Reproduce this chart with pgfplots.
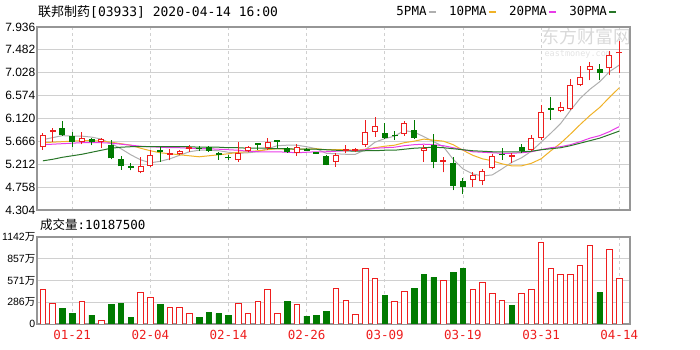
\documentclass[border=0pt]{standalone}
\usepackage{fontspec}
\setmainfont{DejaVu Sans Mono}
\newfontfamily\cjk{Noto Sans CJK SC}
\newfontfamily\lab{Liberation Sans}
\usepackage{pgfplots}
\usepackage{pgfplotstable}
\pgfplotsset{compat=1.18}
\definecolor{cred}{RGB}{238,30,30}
\definecolor{cgreen}{RGB}{0,122,0}
\definecolor{mafive}{RGB}{175,175,175}
\definecolor{maten}{RGB}{240,178,40}
\definecolor{matwenty}{RGB}{232,60,232}
\definecolor{mathirty}{RGB}{40,118,40}
\definecolor{gridc}{RGB}{208,208,208}
\definecolor{framec}{RGB}{150,150,150}
\pgfplotsset{candle/.style={only marks, mark=*, mark size=0pt, mark options={draw=none, fill=none}, forget plot,
  error bars/.cd, y dir=plus, y explicit, error mark=none}}

% candles: index, open, high, low, close
\pgfplotstableread{
i O H L C
0 5.55 5.84 5.50 5.79
4 5.65 5.85 5.61 5.73
6 5.65 5.73 5.54 5.71
10 5.05 5.35 5.03 5.17
11 5.18 5.50 5.16 5.40
14 5.41 5.50 5.40 5.47
20 5.29 5.66 5.26 5.43
21 5.47 5.58 5.45 5.56
23 5.53 5.73 5.50 5.66
26 5.43 5.61 5.38 5.56
30 5.26 5.43 5.16 5.40
33 5.59 6.09 5.56 5.86
34 5.86 6.14 5.76 5.98
37 5.81 6.08 5.78 6.03
39 5.47 5.59 5.26 5.53
44 4.90 5.05 4.77 5.00
45 4.87 5.11 4.80 5.07
46 5.13 5.42 5.11 5.38
50 5.50 5.79 5.48 5.73
51 5.73 6.39 5.69 6.25
53 6.26 6.45 6.24 6.35
54 6.31 6.90 6.29 6.78
55 6.78 7.16 6.76 6.95
56 7.08 7.25 6.88 7.16
58 7.12 7.45 6.98 7.38
}\redbox
\pgfplotstableread{
i O H L C
1 5.85 5.93 5.66 5.89
13 5.40 5.52 5.29 5.44
15 5.52 5.60 5.46 5.55
31 5.48 5.60 5.43 5.52
32 5.48 5.54 5.46 5.51
41 5.26 5.36 5.05 5.29
48 5.36 5.43 5.23 5.39
59 7.41 7.65 7.02 7.44
}\redthin
\pgfplotstableread{
i O H L C
2 5.93 6.08 5.78 5.79
3 5.78 5.86 5.56 5.66
5 5.71 5.73 5.59 5.66
7 5.59 5.69 5.31 5.33
8 5.32 5.37 5.10 5.17
9 5.18 5.24 5.09 5.14
12 5.50 5.56 5.26 5.46
16 5.54 5.58 5.47 5.51
17 5.55 5.57 5.46 5.48
18 5.43 5.45 5.30 5.40
19 5.36 5.39 5.30 5.33
22 5.63 5.63 5.50 5.60
24 5.69 5.70 5.53 5.66
25 5.54 5.55 5.44 5.45
27 5.51 5.53 5.47 5.48
28 5.45 5.46 5.42 5.42
29 5.37 5.39 5.19 5.20
35 5.84 6.03 5.72 5.73
36 5.80 5.87 5.70 5.77
38 5.89 6.09 5.72 5.73
40 5.59 5.82 5.13 5.25
42 5.23 5.36 4.70 4.78
43 4.87 4.93 4.62 4.77
47 5.42 5.53 5.30 5.39
49 5.56 5.61 5.44 5.48
52 6.32 6.55 6.09 6.29
57 7.10 7.21 6.88 7.02
}\greens
% volume (10 thousand shares)
\pgfplotstableread{
i v
0 455
1 271
4 301
6 52
10 419
11 354
13 218
14 218
15 135
20 266
21 135
22 301
23 455
24 135
26 253
30 467
31 314
32 131
33 726
34 599
36 301
37 432
41 568
44 455
45 550
46 402
47 314
49 402
50 455
51 1066
52 726
53 651
54 651
55 765
56 1031
58 979
59 599
}\volr
\pgfplotstableread{
i v
2 201
3 135
5 118
7 253
8 266
9 87
12 253
16 87
17 153
18 135
19 118
25 301
27 105
28 118
29 170
35 380
38 463
39 651
40 612
42 681
43 729
48 249
57 415
}\volg

\begin{document}
\begin{tikzpicture}[x=1pt,y=1pt]
% watermark
\begin{scope}
\clip (37,140) rectangle (630,323);
\node[text=black!15, font=\cjk\fontsize{18}{18}\selectfont, anchor=west] at (538,313) {东方财富网};
\node[text=black!11, font=\fontsize{8.5}{9}\selectfont, anchor=west] at (541,296) {eastmoney.com};
\end{scope}
% title and labels
\node[anchor=west, font=\fontsize{13}{14}\selectfont, inner sep=0pt] at (38,338) {{\cjk 联邦制药}[03933] 2020-04-14 16:00};
\node[anchor=west, font=\fontsize{12.5}{14}\selectfont, inner sep=0pt] at (40,125) {{\cjk 成交量}:10187500};

\begin{axis}[
  at={(37pt,140pt)}, anchor=south west, scale only axis,
  width=593pt, height=183pt,
  xmin=-0.6, xmax=60.1, ymin=4.304, ymax=7.936,
  xtick={3,11,19,27,35,43,51,59}, xticklabels={},
  ytick={4.304,4.758,5.212,5.666,6.120,6.574,7.028,7.482,7.936},
  yticklabels={4.304,4.758,5.212,5.666,6.120,6.574,7.028,7.482,7.936},
  /pgf/number format/assume math mode=true,
  yticklabel style={font=\lab\fontsize{12}{14}\selectfont, inner sep=1.5pt},
  major tick length=0pt,
  xmajorgrids, ymajorgrids,
  x grid style={gridc, dash pattern=on 3pt off 3pt, line width=0.8pt},
  y grid style={gridc, line width=0.8pt},
  axis line style={framec, line width=1.2pt},
  legend columns=4,
  legend plot pos=right,
  legend image code/.code={\draw[#1, line width=2pt] (0pt,0pt) -- (7pt,0pt);},
  legend style={at={(axis description cs:0.605,1.082)}, anchor=west, draw=none, fill=none,
    inner sep=0pt, font=\fontsize{12.5}{14}\selectfont,
    nodes={inner sep=0.5pt},
    /tikz/every odd column/.style={column sep=1pt},
    /tikz/every even column/.style={column sep=11.5pt}},
]
\addplot[mafive, line width=1pt] coordinates {(0,5.70)(1,5.74)(2,5.78)(3,5.77)(4,5.77)(5,5.75)(6,5.71)(7,5.62)(8,5.52)(9,5.40)(10,5.30)(11,5.24)(12,5.27)(13,5.32)(14,5.39)(15,5.46)(16,5.49)(17,5.49)(18,5.48)(19,5.45)(20,5.43)(21,5.44)(22,5.46)(23,5.52)(24,5.58)(25,5.59)(26,5.59)(27,5.56)(28,5.52)(29,5.43)(30,5.42)(31,5.41)(32,5.41)(33,5.50)(34,5.65)(35,5.72)(36,5.77)(37,5.88)(38,5.85)(39,5.76)(40,5.66)(41,5.56)(42,5.31)(43,5.12)(44,5.02)(45,4.98)(46,5.00)(47,5.12)(48,5.25)(49,5.34)(50,5.47)(51,5.65)(52,5.83)(53,6.02)(54,6.28)(55,6.52)(56,6.70)(57,6.85)(58,7.05)(59,7.18)};
\addlegendentry{5PMA}
\addplot[maten, line width=1pt] coordinates {(0,5.64)(1,5.65)(2,5.66)(3,5.67)(4,5.68)(5,5.68)(6,5.67)(7,5.65)(8,5.62)(9,5.59)(10,5.53)(11,5.48)(12,5.44)(13,5.42)(14,5.40)(15,5.38)(16,5.36)(17,5.38)(18,5.40)(19,5.42)(20,5.45)(21,5.46)(22,5.48)(23,5.50)(24,5.52)(25,5.51)(26,5.51)(27,5.51)(28,5.52)(29,5.50)(30,5.50)(31,5.50)(32,5.49)(33,5.51)(34,5.54)(35,5.57)(36,5.59)(37,5.64)(38,5.67)(39,5.71)(40,5.69)(41,5.67)(42,5.60)(43,5.49)(44,5.39)(45,5.32)(46,5.28)(47,5.22)(48,5.18)(49,5.18)(50,5.23)(51,5.32)(52,5.48)(53,5.63)(54,5.81)(55,6.00)(56,6.18)(57,6.34)(58,6.54)(59,6.73)};
\addlegendentry{10PMA}
\addplot[matwenty, line width=1pt] coordinates {(0,5.60)(1,5.61)(2,5.62)(3,5.63)(4,5.64)(5,5.64)(6,5.64)(7,5.63)(8,5.61)(9,5.59)(10,5.57)(11,5.56)(12,5.55)(13,5.54)(14,5.54)(15,5.53)(16,5.52)(17,5.52)(18,5.51)(19,5.50)(20,5.49)(21,5.47)(22,5.46)(23,5.46)(24,5.46)(25,5.45)(26,5.44)(27,5.45)(28,5.46)(29,5.46)(30,5.47)(31,5.48)(32,5.48)(33,5.50)(34,5.53)(35,5.54)(36,5.55)(37,5.58)(38,5.60)(39,5.61)(40,5.60)(41,5.58)(42,5.54)(43,5.50)(44,5.46)(45,5.45)(46,5.44)(47,5.43)(48,5.43)(49,5.44)(50,5.46)(51,5.50)(52,5.54)(53,5.56)(54,5.60)(55,5.66)(56,5.73)(57,5.78)(58,5.86)(59,5.96)};
\addlegendentry{20PMA}
\addplot[mathirty, line width=1pt] coordinates {(0,5.28)(1,5.31)(2,5.35)(3,5.38)(4,5.41)(5,5.45)(6,5.49)(7,5.53)(8,5.55)(9,5.56)(10,5.56)(11,5.56)(12,5.56)(13,5.56)(14,5.56)(15,5.56)(16,5.55)(17,5.55)(18,5.55)(19,5.54)(20,5.54)(21,5.53)(22,5.53)(23,5.53)(24,5.52)(25,5.52)(26,5.51)(27,5.51)(28,5.51)(29,5.50)(30,5.49)(31,5.48)(32,5.47)(33,5.48)(34,5.48)(35,5.49)(36,5.49)(37,5.51)(38,5.53)(39,5.54)(40,5.55)(41,5.54)(42,5.52)(43,5.50)(44,5.48)(45,5.47)(46,5.46)(47,5.46)(48,5.46)(49,5.46)(50,5.47)(51,5.50)(52,5.52)(53,5.54)(54,5.58)(55,5.63)(56,5.68)(57,5.73)(58,5.80)(59,5.87)};
\addlegendentry{30PMA}
% wicks
\addplot[candle, error bar style={line width=1pt, color=cred}] table[x=i, y=L, y error plus expr=\thisrow{H}-\thisrow{L}] {\redbox};
\addplot[candle, error bar style={line width=1pt, color=cred}] table[x=i, y=L, y error plus expr=\thisrow{H}-\thisrow{L}] {\redthin};
\addplot[candle, error bar style={line width=1pt, color=cgreen}] table[x=i, y=L, y error plus expr=\thisrow{H}-\thisrow{L}] {\greens};
% bodies
\addplot[candle, error bar style={line width=6pt, color=cred}] table[x=i, y=O, y error plus expr=\thisrow{C}-\thisrow{O}] {\redbox};
\addplot[candle, error bar style={line width=4pt, color=white}] table[x=i, y expr=\thisrow{O}+0.02, y error plus expr=\thisrow{C}-\thisrow{O}-0.04] {\redbox};
\addplot[candle, error bar style={line width=6pt, color=cred}] table[x=i, y=O, y error plus expr=\thisrow{C}-\thisrow{O}] {\redthin};
\addplot[candle, error bar style={line width=6pt, color=cgreen}] table[x=i, y=C, y error plus expr=\thisrow{O}-\thisrow{C}] {\greens};
\end{axis}

\begin{axis}[
  at={(37pt,26pt)}, anchor=south west, scale only axis,
  width=593pt, height=87pt,
  xmin=-0.6, xmax=60.1, ymin=0, ymax=1142,
  xtick={3,11,19,27,35,43,51,59},
  xticklabels={01-21,02-04,02-14,02-26,03-09,03-19,03-31,04-14},
  xticklabel style={text=cred, yshift=-3pt, font=\fontsize{12.5}{14}\selectfont},
  ytick={0,285.5,571,856.5,1142},
  yticklabels={0,{286{\cjk 万}},{571{\cjk 万}},{857{\cjk 万}},{1142{\cjk 万}}},
  /pgf/number format/assume math mode=true,
  yticklabel style={font=\lab\fontsize{10.5}{12}\selectfont, inner sep=1.5pt},
  major tick length=0pt,
  xmajorgrids, ymajorgrids,
  x grid style={gridc, dash pattern=on 3pt off 3pt, line width=0.8pt},
  y grid style={gridc, line width=0.8pt},
  axis line style={framec, line width=1.2pt},
  ybar, bar width=5.5pt,
]
\addplot[ybar, bar shift=0pt, draw=cred, fill=white, line width=0.9pt] table[x=i, y=v] {\volr};
\addplot[ybar, bar shift=0pt, draw=cgreen, fill=cgreen, line width=0.6pt] table[x=i, y=v] {\volg};
\end{axis}
\pgfresetboundingbox
\path[use as bounding box] (0,0) rectangle (700,350);
\end{tikzpicture}
\end{document}
